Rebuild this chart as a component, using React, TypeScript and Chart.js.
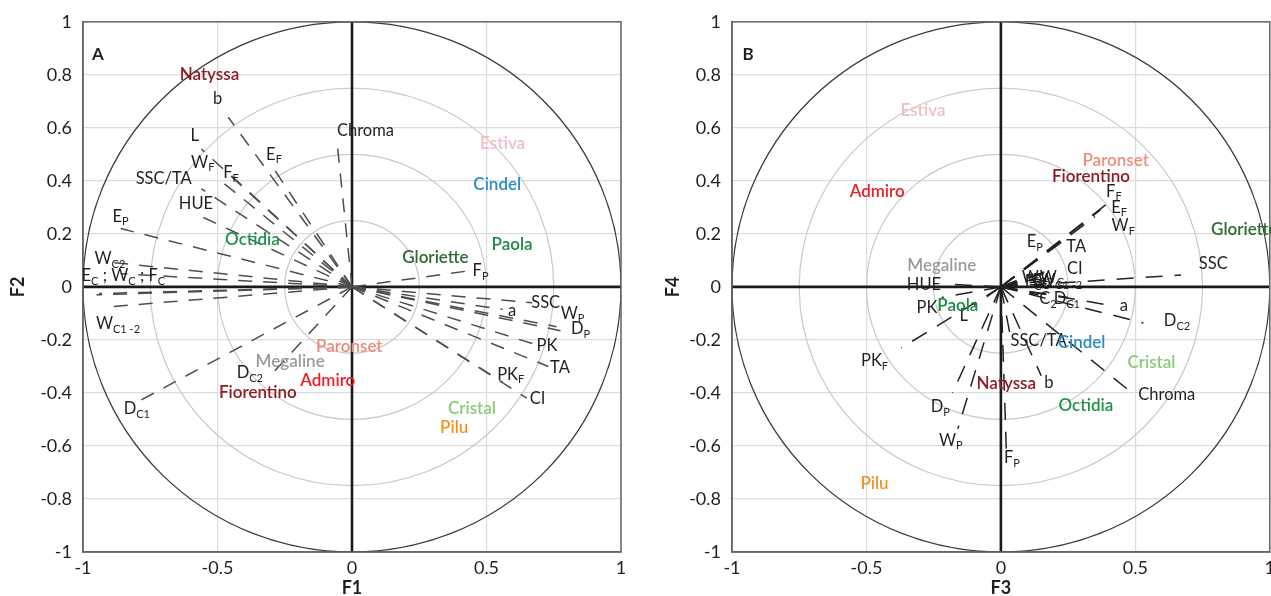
import React, { useEffect, useRef } from "react";
import { Chart, registerables } from "chart.js";

Chart.register(...registerables);

const FONT = "Lato, 'Open Sans', 'Noto Sans', sans-serif";

// ---------- axis ticks ----------
const xTickValues = [-1, -0.5, 0, 0.5, 1];
const yTickValues = [-1, -0.8, -0.6, -0.4, -0.2, 0, 0.2, 0.4, 0.6, 0.8, 1];
const circleRadii = [0.25, 0.5, 0.75, 1];

// ---------- Panel A : variables on F1 x F2 ----------
const varNamesA = [
  "b", "L", "E_{F}", "W_{F}", "F_{F}", "SSC/TA", "HUE", "E_{P}", "W_{C2}",
  "E_{C} ; W_{C} ; F_{C}", "", "",
  "W_{C1 -2}", "D_{C1}", "D_{C2}", "Chroma", "F_{P}", "SSC", "a", "W_{P}", "D_{P}",
  "PK", "TA", "PK_{F}", "CI",
];
const varF1 = [
  -0.46, -0.56, -0.30, -0.50, -0.47, -0.56, -0.58, -0.86, -0.92,
  -0.95, -0.94, -0.86,
  -0.90, -0.79, -0.29, -0.056, 0.43, 0.67, 0.56, 0.76, 0.775,
  0.69, 0.73, 0.56, 0.65,
];
const varF2 = [
  0.64, 0.52, 0.46, 0.41, 0.44, 0.37, 0.275, 0.22, 0.095,
  -0.03, -0.025, 0.05,
  -0.075, -0.43, -0.32, 0.55, 0.06, -0.06, -0.085, -0.15, -0.165,
  -0.22, -0.30, -0.36, -0.42,
];
const varLabelF1 = [
  -0.50, -0.585, -0.29, -0.555, -0.45, -0.70, -0.58, -0.86, -0.90,
  -0.85, 0, 0,
  -0.87, -0.80, -0.38, 0.05, 0.478, 0.72, 0.595, 0.82, 0.85,
  0.725, 0.773, 0.59, 0.69,
];
const varLabelF2 = [
  0.71, 0.57, 0.50, 0.47, 0.43, 0.41, 0.315, 0.265, 0.105,
  0.042, 0, 0,
  -0.14, -0.46, -0.325, 0.59, 0.06, -0.06, -0.09, -0.10, -0.158,
  -0.223, -0.305, -0.33, -0.42,
];

// ---------- Panel B : variables on F3 x F4 ----------
const varNamesB = [
  "F_{F}", "E_{F}", "W_{F}", "E_{P}", "TA", "CI", "W_{C2}", "W_{C}", "E_{C}", "F_{C}",
  "W_{C1 -2}", "SSC", "D_{C1}", "C_{2}", "a", "D_{C2}", "HUE", "PK", "L", "PK_{F}",
  "D_{P}", "W_{P}", "F_{P}", "SSC/TA", "b", "Chroma",
];
const varF3 = [
  0.39, 0.37, 0.35, 0.155, 0.24, 0.20, 0.12, 0.16, 0.13, 0.14,
  0.20, 0.67, 0.25, 0.14, 0.41, 0.53, -0.19, -0.22, -0.10, -0.37,
  -0.18, -0.16, 0.02, 0.04, 0.15, 0.50,
];
const varF4 = [
  0.31, 0.29, 0.265, 0.12, 0.18, 0.07, 0.05, 0.05, 0.03, 0.035,
  0.03, 0.045, -0.04, -0.03, -0.07, -0.136, 0.01, -0.04, -0.07, -0.23,
  -0.40, -0.535, -0.61, -0.21, -0.335, -0.41,
];
const varLabelF3 = [
  0.42, 0.44, 0.455, 0.126, 0.28, 0.275, 0.135, 0.19, 0.15, 0.12,
  0.22, 0.79, 0.245, 0.175, 0.457, 0.655, -0.286, -0.275, -0.138, -0.47,
  -0.225, -0.186, 0.041, 0.14, 0.178, 0.617,
];
const varLabelF4 = [
  0.36, 0.30, 0.23, 0.17, 0.15, 0.068, 0.035, 0.035, 0.025, 0.02,
  0.025, 0.087, -0.045, -0.045, -0.072, -0.128, 0.008, -0.08, -0.11, -0.28,
  -0.453, -0.58, -0.645, -0.204, -0.362, -0.408,
];

// ---------- cultivars ----------
const cultivars = [
  "Natyssa", "Estiva", "Cindel", "Paola", "Gloriette", "Octidia",
  "Paronset", "Megaline", "Admiro", "Fiorentino", "Cristal", "Pilu",
];
const cultivarColors = [
  "#8c1d22", "#efc0c3", "#2b8dc2", "#1c8a42", "#2f6a33", "#1f9447",
  "#f28a7b", "#9b9b9b", "#ec1c26", "#8c1d22", "#8dc87b", "#f5921e",
];
const cultF1 = [-0.53, 0.56, 0.54, 0.595, 0.31, -0.37, -0.01, -0.23, -0.09, -0.35, 0.446, 0.38];
const cultF2 = [0.80, 0.54, 0.385, 0.16, 0.11, 0.18, -0.225, -0.28, -0.355, -0.40, -0.46, -0.53];
const cultF3 = [0.02, -0.29, 0.30, -0.16, 0.905, 0.316, 0.427, -0.22, -0.46, 0.335, 0.56, -0.47];
const cultF4 = [-0.366, 0.664, -0.21, -0.072, 0.215, -0.449, 0.475, 0.08, 0.36, 0.415, -0.287, -0.74];

// ---------- helpers ----------
function drawRich(ctx: CanvasRenderingContext2D, text: string, x: number, y: number, size: number, color: string, weight: string) {
  const parts: { t: string; sub: boolean }[] = [];
  const re = /_\{([^}]*)\}/g;
  let last = 0;
  let m: RegExpExecArray | null;
  while ((m = re.exec(text)) !== null) {
    if (m.index > last) parts.push({ t: text.slice(last, m.index), sub: false });
    parts.push({ t: m[1], sub: true });
    last = m.index + m[0].length;
  }
  if (last < text.length) parts.push({ t: text.slice(last), sub: false });
  const subSize = Math.round(size * 0.68);
  let total = 0;
  const widths: number[] = [];
  for (const p of parts) {
    ctx.font = `${weight} ${p.sub ? subSize : size}px ${FONT}`;
    const w = ctx.measureText(p.t).width;
    widths.push(w);
    total += w;
  }
  let cx = x - total / 2;
  ctx.fillStyle = color;
  ctx.textAlign = "left";
  ctx.textBaseline = "middle";
  parts.forEach((p, i) => {
    ctx.font = `${weight} ${p.sub ? subSize : size}px ${FONT}`;
    ctx.fillText(p.t, cx, p.sub ? y + size * 0.32 : y);
    cx += widths[i];
  });
}

type PanelSpec = {
  letter: string;
  letterX: number;
  xTitle: string;
  yTitle: string;
  yTitleX: number;
  names: string[];
  vx: number[];
  vy: number[];
  lx: number[];
  ly: number[];
  cx: number[];
  cy: number[];
  lineColor: string;
  dash: number[];
  yAxisWidth: number;
  padRight: number;
};

function makePlugin(spec: PanelSpec) {
  return {
    id: "biplot" + spec.letter,
    beforeDatasetsDraw(chart: any) {
      const { ctx, chartArea, scales } = chart;
      const xs = scales.x;
      const ys = scales.y;
      const ox = xs.getPixelForValue(0);
      const oy = ys.getPixelForValue(0);
      const ux = xs.getPixelForValue(1) - ox;
      const uy = oy - ys.getPixelForValue(1);
      ctx.save();
      ctx.beginPath();
      ctx.rect(chartArea.left, chartArea.top, chartArea.right - chartArea.left, chartArea.bottom - chartArea.top);
      ctx.clip();
      circleRadii.forEach((r) => {
        ctx.beginPath();
        ctx.ellipse(ox, oy, r * ux, r * uy, 0, 0, Math.PI * 2);
        ctx.strokeStyle = r === 1 ? "#3a3a3a" : "#c9c9c9";
        ctx.lineWidth = r === 1 ? 1.3 : 1.2;
        ctx.stroke();
      });
      ctx.restore();
      ctx.save();
      ctx.strokeStyle = "#1a1a1a";
      ctx.lineWidth = 2.6;
      ctx.beginPath();
      ctx.moveTo(chartArea.left, oy);
      ctx.lineTo(chartArea.right, oy);
      ctx.moveTo(ox, chartArea.top);
      ctx.lineTo(ox, chartArea.bottom);
      ctx.stroke();
      ctx.restore();
    },
    afterDatasetsDraw(chart: any) {
      const { ctx, chartArea, scales } = chart;
      const xs = scales.x;
      const ys = scales.y;
      ctx.save();
      // frame
      ctx.strokeStyle = "#666";
      ctx.lineWidth = 1.5;
      ctx.strokeRect(chartArea.left, chartArea.top, chartArea.right - chartArea.left, chartArea.bottom - chartArea.top);
      // variable labels
      spec.names.forEach((n, i) => {
        if (!n) return;
        drawRich(ctx, n, xs.getPixelForValue(spec.lx[i]), ys.getPixelForValue(spec.ly[i]), 16.5, "#231f20", "normal");
      });
      // cultivar labels
      cultivars.forEach((n, i) => {
        drawRich(ctx, n, xs.getPixelForValue(spec.cx[i]), ys.getPixelForValue(spec.cy[i]), 17, cultivarColors[i], "600");
      });
      // panel letter
      ctx.font = `bold 17px ${FONT}`;
      ctx.fillStyle = "#231f20";
      ctx.textAlign = "center";
      ctx.textBaseline = "middle";
      ctx.fillText(spec.letter, spec.letterX, 55);
      // axis titles
      ctx.font = `bold 18px ${FONT}`;
      ctx.fillText(spec.xTitle, xs.getPixelForValue(0), 588);
      ctx.save();
      ctx.translate(spec.yTitleX, ys.getPixelForValue(0));
      ctx.rotate(-Math.PI / 2);
      ctx.fillText(spec.yTitle, 0, 0);
      ctx.restore();
      ctx.restore();
    },
  };
}

function buildConfig(spec: PanelSpec): any {
  const datasets = spec.vx.map((x, i) => ({
    data: [
      { x: 0, y: 0 },
      { x, y: spec.vy[i] },
    ],
    showLine: true,
    borderColor: spec.lineColor,
    borderWidth: 1.5,
    borderDash: spec.dash,
    pointRadius: 0,
    fill: false,
  }));
  const fmt = (v: any) => String(Number(Number(v).toFixed(2)));
  return {
    type: "scatter",
    data: { datasets },
    options: {
      animation: false,
      responsive: false,
      maintainAspectRatio: false,
      layout: { padding: { left: 0, right: spec.padRight, top: 21, bottom: 0 } },
      plugins: { legend: { display: false }, tooltip: { enabled: false } },
      scales: {
        x: {
          type: "linear",
          min: -1,
          max: 1,
          afterBuildTicks: (s: any) => {
            s.ticks = xTickValues.map((v) => ({ value: v }));
          },
          afterFit: (s: any) => {
            s.height = 44;
          },
          ticks: { font: { size: 18, family: FONT }, color: "#231f20", padding: 5, callback: fmt, maxRotation: 0 },
          grid: { color: "#dcdcdc", lineWidth: 1.2, drawTicks: false },
          border: { color: "#666", width: 1.5 },
        },
        y: {
          type: "linear",
          min: -1,
          max: 1,
          afterBuildTicks: (s: any) => {
            s.ticks = yTickValues.map((v) => ({ value: v }));
          },
          afterFit: (s: any) => {
            s.width = spec.yAxisWidth;
          },
          ticks: { font: { size: 18, family: FONT }, color: "#231f20", padding: 11, callback: fmt },
          grid: { color: "#dcdcdc", lineWidth: 1.2, drawTicks: false },
          border: { color: "#666", width: 1.5 },
        },
      },
    },
    plugins: [makePlugin(spec)],
  };
}

export default function App() {
  const refA = useRef<HTMLCanvasElement>(null);
  const refB = useRef<HTMLCanvasElement>(null);

  useEffect(() => {
    const specA: PanelSpec = {
      letter: "A",
      letterX: 98,
      xTitle: "F1",
      yTitle: "F2",
      yTitleX: 18,
      names: varNamesA,
      vx: varF1,
      vy: varF2,
      lx: varLabelF1,
      ly: varLabelF2,
      cx: cultF1,
      cy: cultF2,
      lineColor: "#4d4d4d",
      dash: [14, 11],
      yAxisWidth: 83,
      padRight: 19,
    };
    const specB: PanelSpec = {
      letter: "B",
      letterX: 108,
      xTitle: "F3",
      yTitle: "F4",
      yTitleX: 33,
      names: varNamesB,
      vx: varF3,
      vy: varF4,
      lx: varLabelF3,
      ly: varLabelF4,
      cx: cultF3,
      cy: cultF4,
      lineColor: "#222",
      dash: [17, 12],
      yAxisWidth: 92,
      padRight: 9,
    };
    const a = new Chart(refA.current as HTMLCanvasElement, buildConfig(specA));
    const b = new Chart(refB.current as HTMLCanvasElement, buildConfig(specB));
    return () => {
      a.destroy();
      b.destroy();
    };
  }, []);

  return (
    <div style={{ position: "absolute", left: 0, top: 0, width: 1271, height: 596, overflow: "hidden", background: "#fff" }}>
      <canvas ref={refA} width={640} height={596} style={{ position: "absolute", left: 0, top: 0, width: 640, height: 596 }} />
      <canvas ref={refB} width={640} height={596} style={{ position: "absolute", left: 640, top: 0, width: 640, height: 596 }} />
    </div>
  );
}
